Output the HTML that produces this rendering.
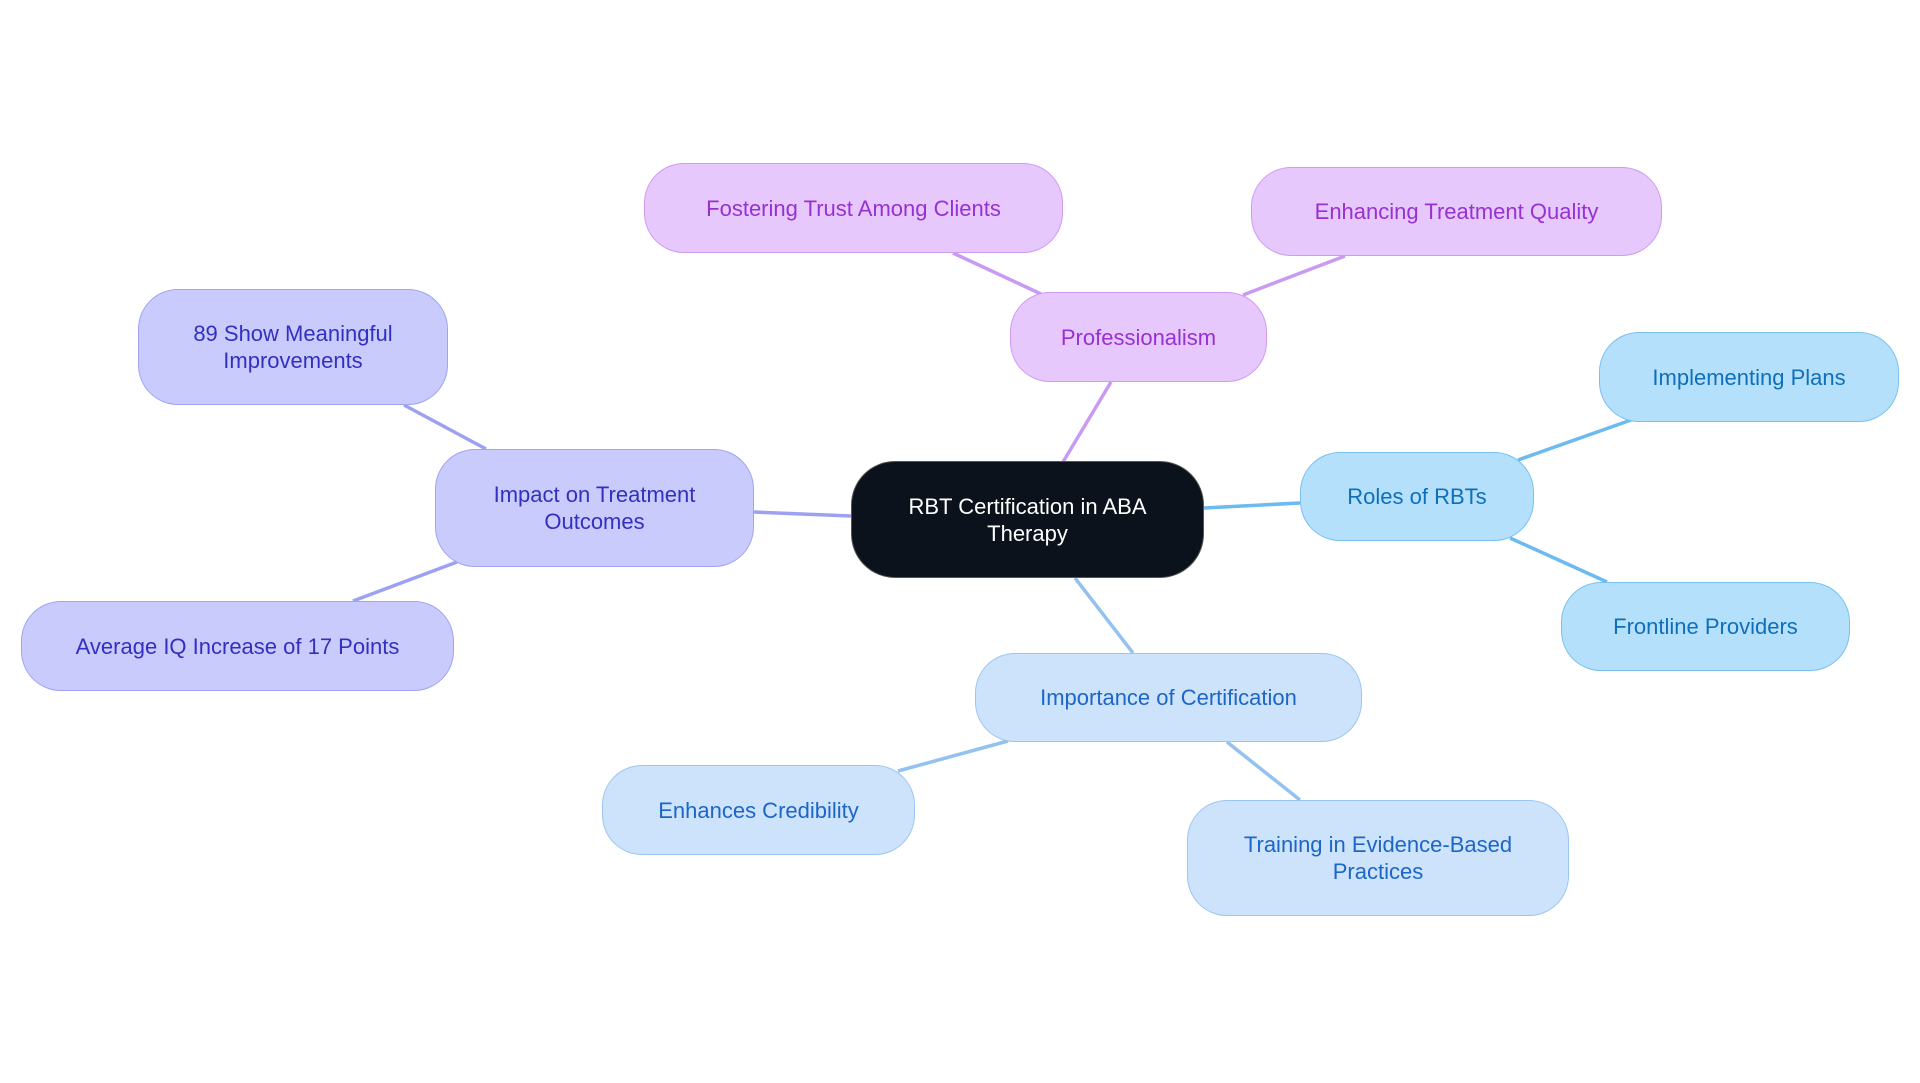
<!DOCTYPE html>
<html><head><meta charset="utf-8"><style>
body{margin:0;width:1920px;height:1083px;background:#fff;position:relative;overflow:hidden;font-family:"Liberation Sans",sans-serif;}
.n{position:absolute;box-sizing:border-box;display:flex;align-items:center;justify-content:center;text-align:center;font-size:22px;line-height:27px;border:1.5px solid;border-radius:40px;padding:0 20px;}
.p{background:#e7c8fd;border-color:#cf9af2;color:#9631d2;}
.b{background:#b5e0fc;border-color:#77c0f0;color:#0f6fb8;}
.l{background:#cde3fb;border-color:#9cc6f2;color:#1c66c8;}
.i{background:#c9cbfd;border-color:#a0a3f2;color:#3330c0;}
svg{position:absolute;left:0;top:0;}
</style></head><body>
<svg width="1920" height="1083">
<g stroke-width="3.5" fill="none">
<line x1="1063" y1="462" x2="1111" y2="382" stroke="#c99af2"/>
<line x1="1041" y1="294" x2="953" y2="253" stroke="#c99af2"/>
<line x1="1243" y1="295" x2="1345" y2="256" stroke="#c99af2"/>
<line x1="1204" y1="508" x2="1300" y2="503" stroke="#6cbaf0"/>
<line x1="1518" y1="460" x2="1631" y2="420" stroke="#6cbaf0"/>
<line x1="1510" y1="538" x2="1607" y2="582" stroke="#6cbaf0"/>
<line x1="1075" y1="578" x2="1133" y2="653" stroke="#93c2f0"/>
<line x1="1008" y1="741" x2="898" y2="771" stroke="#93c2f0"/>
<line x1="1227" y1="742" x2="1300" y2="800" stroke="#93c2f0"/>
<line x1="851" y1="516" x2="754" y2="512" stroke="#9da1f2"/>
<line x1="486" y1="449" x2="404" y2="405" stroke="#9da1f2"/>
<line x1="457" y1="562" x2="353" y2="601" stroke="#9da1f2"/>
</g></svg>
<div class="n" style="left:851px;top:461px;width:353px;height:117px;background:#0c121c;border-color:#555;color:#fff;border-radius:44px;">RBT Certification in ABA<br>Therapy</div>
<div class="n p" style="left:1010px;top:292px;width:257px;height:90px;">Professionalism</div>
<div class="n p" style="left:644px;top:163px;width:419px;height:90px;">Fostering Trust Among Clients</div>
<div class="n p" style="left:1251px;top:167px;width:411px;height:89px;">Enhancing Treatment Quality</div>
<div class="n b" style="left:1300px;top:452px;width:234px;height:89px;">Roles of RBTs</div>
<div class="n b" style="left:1599px;top:332px;width:300px;height:90px;">Implementing Plans</div>
<div class="n b" style="left:1561px;top:582px;width:289px;height:89px;">Frontline Providers</div>
<div class="n l" style="left:975px;top:653px;width:387px;height:89px;">Importance of Certification</div>
<div class="n l" style="left:602px;top:765px;width:313px;height:90px;">Enhances Credibility</div>
<div class="n l" style="left:1187px;top:800px;width:382px;height:116px;">Training in Evidence-Based<br>Practices</div>
<div class="n i" style="left:435px;top:449px;width:319px;height:118px;">Impact on Treatment<br>Outcomes</div>
<div class="n i" style="left:138px;top:289px;width:310px;height:116px;">89 Show Meaningful<br>Improvements</div>
<div class="n i" style="left:21px;top:601px;width:433px;height:90px;">Average IQ Increase of 17 Points</div>
</body></html>
